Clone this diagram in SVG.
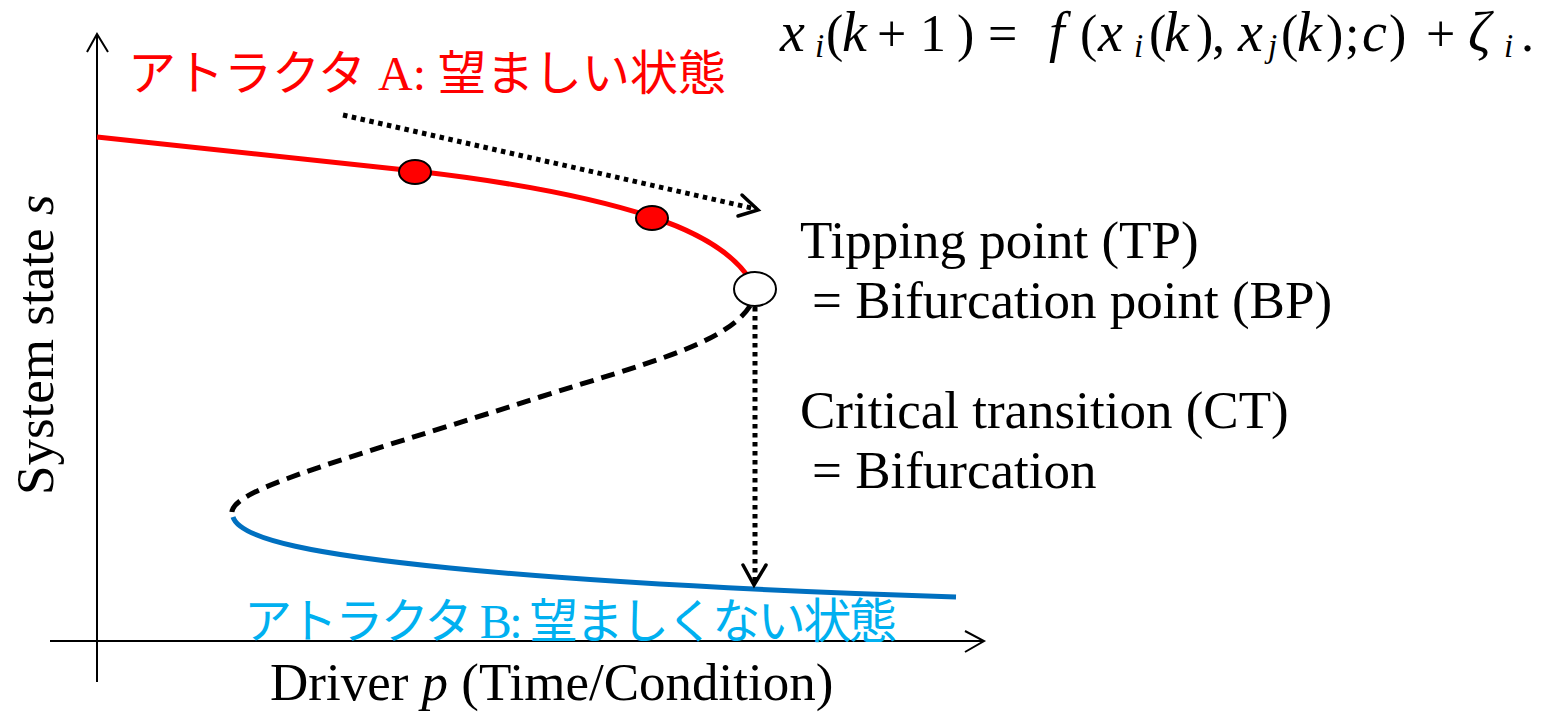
<svg xmlns="http://www.w3.org/2000/svg" width="1555" height="712" viewBox="0 0 1555 712">
<style>
.t{font-family:"Liberation Serif","Times New Roman",serif;font-size:53px;fill:#000}
.jp{font-family:"Liberation Serif","Noto Sans CJK JP",sans-serif;font-size:48px}
.e{font-family:"Liberation Serif","Times New Roman",serif;font-size:52px;fill:#000}
.ei{font-style:italic;font-size:56px}
.es{font-style:italic;font-size:33px}
.it{font-style:italic}
.ax{stroke:#000;stroke-width:2;fill:none}
.dot{stroke:#000;stroke-width:5;stroke-dasharray:4.5 4.5;fill:none}
.head{stroke:#000;stroke-width:3.5;fill:none;stroke-linecap:round;stroke-linejoin:miter}
</style>
<rect width="1555" height="712" fill="#fff"/>
<g id="axes">
<line class="ax" x1="97" y1="682" x2="97" y2="34"/>
<polyline class="ax" points="87,52 97,34 108,52"/>
<line class="ax" x1="50" y1="641" x2="984" y2="641"/>
<polyline class="ax" points="965,631 984,641 965,652"/>
</g>
<g id="curves">
<path d="M97,137 C250,153 350,164 415,171 C520,183 600,200 652,217 C700,233 735,255 751,281" fill="none" stroke="#FF0000" stroke-width="5"/>
<path d="M750,306 C725,345 640,365 540,397 C420,436 300,470 255,492 C235,502 229,510 233,517" fill="none" stroke="#000" stroke-width="5" stroke-dasharray="14 8"/>
<path d="M233,517 C240,540 320,555 450,568 C600,583 800,592 956,597" fill="none" stroke="#0070C0" stroke-width="5"/>
</g>
<g id="connectors">
<line class="dot" x1="343" y1="115" x2="756" y2="209"/>
<polyline class="head" points="742,195 758,210 738,216"/>
<line class="dot" x1="755" y1="307" x2="755" y2="582"/>
<polyline class="head" points="743,565 754,585 766,565"/>
</g>
<g id="point-a1"><ellipse cx="415" cy="172" rx="16" ry="12" fill="#FF0000" stroke="#000" stroke-width="2"/></g>
<g id="point-a2"><ellipse cx="652" cy="218" rx="16" ry="12" fill="#FF0000" stroke="#000" stroke-width="2"/></g>
<g id="tipping-point"><ellipse cx="755" cy="289" rx="21" ry="17" fill="#fff" stroke="#000" stroke-width="2"/></g>
<g id="labels">
<text class="jp" x="128" y="90" fill="#FF0000">アトラクタ A: 望ましい状態</text>
<text class="jp" x="244" y="638" fill="#00B0F0" letter-spacing="-2.4">アトラクタ B: 望ましくない状態</text>
<text class="t" x="800" y="258">Tipping point (TP)</text>
<text class="t" x="812" y="318">= Bifurcation point (BP)</text>
<text class="t" x="800" y="428">Critical transition (CT)</text>
<text class="t" x="812" y="488">= Bifurcation</text>
<text class="t" x="270" y="700">Driver <tspan class="it">p</tspan> (Time/Condition)</text>
<text class="t" transform="translate(53,495) rotate(-90)">System state <tspan class="it">s</tspan></text>
</g>
<g id="equation">
<text class="e" y="51"><tspan class="ei" x="780">x</tspan><tspan class="es" x="815" y="57">i</tspan><tspan x="826" y="51">(</tspan><tspan class="ei" x="842">k</tspan><tspan x="877">+</tspan><tspan x="920">1</tspan><tspan x="957">)</tspan><tspan x="988">=</tspan><tspan class="ei" x="1049">f</tspan><tspan x="1080">(</tspan><tspan class="ei" x="1098">x</tspan><tspan class="es" x="1134" y="57">i</tspan><tspan x="1149" y="51">(</tspan><tspan class="ei" x="1164">k</tspan><tspan x="1196">)</tspan><tspan x="1212">,</tspan><tspan class="ei" x="1238">x</tspan><tspan class="es" x="1268" y="57">j</tspan><tspan x="1281" y="51">(</tspan><tspan class="ei" x="1297">k</tspan><tspan x="1326">)</tspan><tspan x="1345">;</tspan><tspan class="ei" x="1362">c</tspan><tspan x="1389">)</tspan><tspan x="1426">+</tspan><tspan class="ei" x="1468">ζ</tspan><tspan class="es" x="1504" y="57">i</tspan><tspan x="1521" y="51">.</tspan></text>
</g>
</svg>
